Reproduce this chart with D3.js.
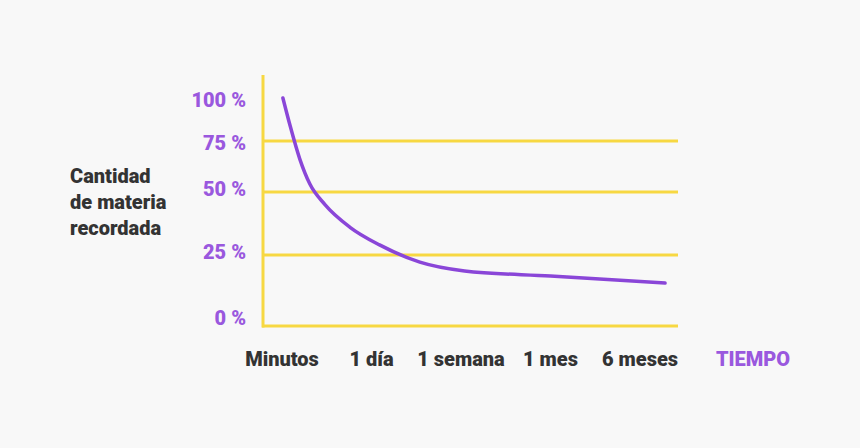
<!DOCTYPE html>
<html><head><meta charset="utf-8">
<script src="https://cdn.jsdelivr.net/npm/d3@7"></script>
<style>body{margin:0;background:#f8f8f8}text{font-family:Roboto,sans-serif;font-weight:900}</style>
</head><body><svg id="c" width="860" height="448"></svg>
<script>
const categories=["Minutos","1 día","1 semana","1 mes","6 meses"];
const yTicks=[0,25,50,75,100];
const gridTicks=[0,25,50,75];
const curveX=[0.01,0.09,0.2,0.31,0.48,0.76,1.09,1.54,2.04,3.0,4.28];
const curveY=[100,84,66,54,45,36,29,22.5,19.4,17.6,15.1];
const svg=d3.select("#c");
const x=d3.scaleLinear().domain([0,4]).range([282,640]);
const y=d3.scaleLinear().domain([0,25,50,75,100]).range([326,255,192,141,98]);
const yLab=d3.scaleLinear().domain([0,25,50,75,100]).range([318,252,189,143,100]);
const yellow="#f7d842",purple="#9a58de";
svg.append("line").attr("x1",263).attr("x2",263).attr("y1",75).attr("y2",y(0)+1.5).attr("stroke",yellow).attr("stroke-width",3);
svg.selectAll(".g").data(gridTicks).join("line").attr("x1",262).attr("x2",678).attr("y1",d=>y(d)).attr("y2",d=>y(d)).attr("stroke",yellow).attr("stroke-width",3);
svg.selectAll(".yl").data(yTicks).join("text").attr("x",246).attr("y",d=>yLab(d)).attr("dy","0.35em").attr("text-anchor","end").attr("fill",purple).attr("font-size",20).text(d=>d+" %");
svg.selectAll(".xl").data(categories).join("text").attr("x",(d,i)=>x(i)).attr("y",366).attr("text-anchor","middle").attr("fill","#333").attr("font-size",20).text(d=>d);
svg.append("text").attr("x",753).attr("y",366).attr("text-anchor","middle").attr("fill",purple).attr("font-size",20).text("TIEMPO");
["Cantidad","de materia","recordada"].forEach((t,i)=>svg.append("text").attr("x",70).attr("y",183+i*26).attr("fill","#333").attr("font-size",20).text(t));
svg.append("path").datum(curveX.map((v,i)=>[v,curveY[i]])).attr("d",d3.line().x(d=>x(d[0])).y(d=>y(d[1])).curve(d3.curveMonotoneX)).attr("fill","none").attr("stroke","#8a46d8").attr("stroke-width",3.5).attr("stroke-linecap","round");
</script></body></html>
